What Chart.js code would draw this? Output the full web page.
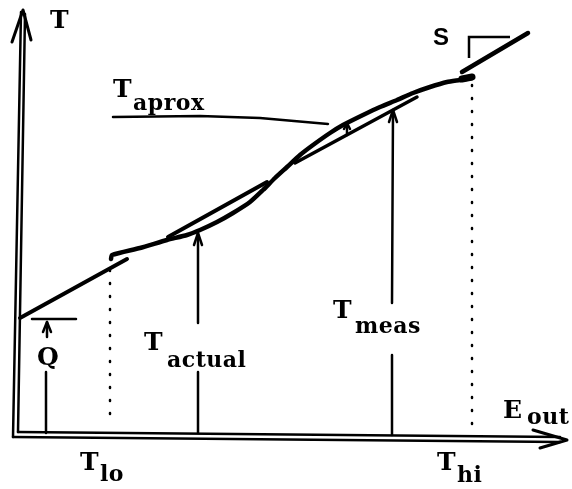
<!DOCTYPE html>
<html>
<head>
<meta charset="utf-8">
<script src="https://cdn.jsdelivr.net/npm/chart.js@4"></script>
<style>
  html, body { margin: 0; padding: 0; background: #fff; }
  #wrap { width: 572px; height: 489px; }
</style>
</head>
<body>
<div id="wrap"><canvas id="chart"></canvas></div>
<script>
// units measured from the axes corner: E_out to the right, T upwards

// axes (drawn as double lines with arrow heads)
const yAxisLeft = [[-2, -2], [6, 423]];
const yAxisRight = [[3, 3], [10, 421]];
const yAxisHead = [[-3, 393], [8, 425], [16, 395]];
const xAxisTop = [[3, 3], [545, -2]];
const xAxisBottom = [[-2, -2], [545, -7]];
const xAxisHead = [[518, 5], [552, -5], [525, -13]];

// actual transfer curve (low piece + main piece)
const curveLow = [[5, 117], [112, 176]];
const curveMain = [[96, 176], [97, 180], [125, 187], [152, 195], [172, 200], [185, 205],
  [202, 213], [218, 222], [235, 233], [248, 245], [260, 257], [272, 268], [285, 280],
  [298, 290], [315, 302], [328, 310], [348, 320], [365, 328], [382, 335], [398, 342],
  [415, 348], [432, 353], [445, 355], [457, 357]];
const curveEnd = [[447, 356], [457, 358]];

// approximating straight pieces
const aproxA = [[153, 198], [252, 253]];
const aproxB = [[280, 272], [402, 338]];
const aproxLeader = [[98, 318], [185, 319], [245, 317], [313, 311]];
const aproxArrow = [[332, 300], [332, 312]];
const aproxArrowHead = [[329, 306], [332, 312], [335, 306]];

// T_actual arrow
const actualLow = [[183, 2], [183, 63]];
const actualHigh = [[183, 112], [183, 201]];
const actualHead = [[179, 190], [183, 202], [187, 190]];

// T_meas arrow
const measLow = [[377, 0], [377, 80]];
const measHigh = [[377, 132], [378, 325]];
const measHead = [[374, 313], [378, 325], [382, 313]];

// Q offset
const qLow = [[31, 2], [31, 63]];
const qHigh = [[32, 98], [32, 113]];
const qHead = [[28, 103], [32, 113], [36, 103]];
const qBar = [[17, 116], [61, 116]];

// range limits (dotted)
const tLoLine = [[95, 165], [95, 10]];
const tHiLine = [[457, 350], [457, 0]];

// slope symbol
const slopeCorner = [[454, 377], [454, 398], [495, 398]];
const slopeLine = [[447, 363], [513, 402]];

// text labels: [main, subscript, x, y, subX, subY]
const labels = [
  ['T', '', 35, 407, 0, 0],
  ['T', 'aprox', 98, 338, 118, 325],
  ['T', 'actual', 129, 85, 152, 68],
  ['T', 'meas', 318, 117, 340, 102],
  ['Q', '', 22, 70, 0, 0],
  ['T', 'lo', 65, -35, 85, -46],
  ['T', 'hi', 422, -35, 442, -47],
  ['E', 'out', 488, 17, 512, 11],
];
const slopeLabel = ['S', 418, 390];

function pts(a) { return a.map(p => ({ x: p[0], y: p[1] })); }
function seg(a, w, extra) {
  return Object.assign({
    data: pts(a), showLine: true, borderColor: '#000', borderWidth: w,
    pointRadius: 0, tension: 0, borderCapStyle: 'round', borderJoinStyle: 'round', fill: false
  }, extra || {});
}

const datasets = [
  seg(yAxisLeft, 2.5), seg(yAxisRight, 2.5), seg(yAxisHead, 3),
  seg(xAxisTop, 2.5), seg(xAxisBottom, 2.5), seg(xAxisHead, 3),
  seg(curveLow, 4), seg(curveMain, 4.5, { tension: 0.2 }), seg(curveEnd, 7),
  seg(aproxA, 4), seg(aproxB, 3.5), seg(aproxLeader, 2.5),
  seg(aproxArrow, 2.5), seg(aproxArrowHead, 2.5),
  seg(actualLow, 2.5), seg(actualHigh, 2.5), seg(actualHead, 2.5),
  seg(measLow, 2.5), seg(measHigh, 2.5), seg(measHead, 2.5),
  seg(qLow, 2.5), seg(qHigh, 2.5), seg(qHead, 2.5), seg(qBar, 2.5),
  seg(tLoLine, 2.5, { borderDash: [1, 12] }), seg(tHiLine, 2.5, { borderDash: [1, 12] }),
  seg(slopeCorner, 2.5, { borderCapStyle: 'butt', borderJoinStyle: 'miter' }), seg(slopeLine, 4.5),
];

const textPlugin = {
  id: 'text',
  afterDatasetsDraw(chart) {
    const c = chart.ctx, sx = chart.scales.x, sy = chart.scales.y;
    c.save();
    c.fillStyle = '#000';
    c.textBaseline = 'alphabetic';
    c.textAlign = 'left';
    labels.forEach(l => {
      c.letterSpacing = '0px';
      c.font = 'bold 25px "DejaVu Serif"';
      c.fillText(l[0], sx.getPixelForValue(l[2]), sy.getPixelForValue(l[3]));
      if (l[1]) {
        c.letterSpacing = '0.5px';
        c.font = 'bold 22px "DejaVu Serif"';
        c.fillText(l[1], sx.getPixelForValue(l[4]), sy.getPixelForValue(l[5]));
      }
    });
    c.letterSpacing = '0px';
    c.font = 'bold 24px "Liberation Sans"';
    c.fillText(slopeLabel[0], sx.getPixelForValue(slopeLabel[1]), sy.getPixelForValue(slopeLabel[2]));
    c.restore();
  }
};

new Chart(document.getElementById('chart'), {
  type: 'scatter',
  data: { datasets },
  options: {
    responsive: true,
    maintainAspectRatio: false,
    animation: false,
    layout: { padding: 0 },
    plugins: { legend: { display: false }, tooltip: { enabled: false } },
    scales: {
      x: { type: 'linear', min: -15, max: 557, display: false },
      y: { type: 'linear', min: -54, max: 435, display: false }
    }
  },
  plugins: [textPlugin]
});
</script>
</body>
</html>
